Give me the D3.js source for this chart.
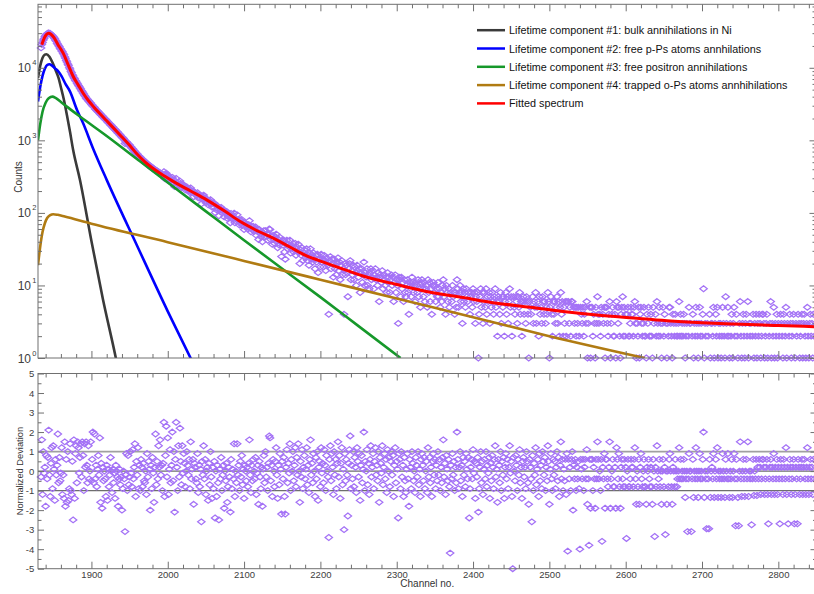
<!DOCTYPE html>
<html>
<head>
<meta charset="utf-8">
<title>Positron lifetime spectrum</title>
<script src="https://cdn.jsdelivr.net/npm/d3@7/dist/d3.min.js"></script>
<style>
  body { margin: 0; background: #fff; }
  svg { display: block; font-family: "Liberation Sans", Arial, sans-serif; }
</style>
</head>
<body>
<svg id="chart" width="814" height="594"></svg>
<script>
// measured spectrum, one value per channel starting at firstChannel
const firstChannel = 1834;
const counts = [
  18800, 20950, 22300, 24150, 25300, 26950, 27700, 28950, 29300, 29950,
  30150, 29700, 29800, 28850, 28400, 27350, 26900, 25850, 25100, 23900,
  23150, 21850, 21100, 20050, 19500, 18450, 18000, 17100, 16600, 15800,
  15100, 14150, 13500, 12600, 12050, 11250, 10800, 10050, 9600, 8950,
  8560, 8000, 7700, 7280, 7050, 6700, 6500, 6180, 5990, 5700,
  5530, 5250, 5100, 4840, 4700, 4480, 4350, 4150, 4030, 3840,
  3720, 3660, 3520, 3460, 3320, 3260, 3130, 3080, 2960, 2900,
  2830, 2710, 2670, 2575, 2540, 2450, 2410, 2330, 2290, 2215,
  2180, 2100, 2070, 2000, 1970, 1900, 1870, 1805, 1780, 1715,
  1690, 1625, 1610, 1550, 1530, 1470, 1450, 1395, 1380, 1320,
  1310, 1255, 1240, 1195, 1180, 1130, 1115, 1075, 1060, 1020,
  905, 960, 955, 915, 905, 870, 860, 822, 812, 775,
  765, 728, 722, 690, 680, 652, 648, 618, 612, 588,
  586, 560, 558, 533, 532, 510, 511, 489, 488, 470,
  470, 450, 452, 432, 436, 418, 420, 402, 405, 389,
  392, 376, 380, 362, 368, 352, 356, 340, 346, 331,
  337, 370, 297, 330, 352, 301, 332, 276, 295, 307,
  274, 285, 309, 264, 284, 230, 271, 299, 258, 235,
  268, 240, 275, 246, 224, 252, 227, 240, 229, 208,
  217, 228, 215, 205, 215, 190, 221, 192, 196, 201,
  167, 193, 188, 178, 172, 190, 161, 177, 160, 170,
  133, 170, 159, 176, 153, 162, 138, 151, 151, 129,
  149, 134, 152, 135, 120, 136, 122, 136, 101, 126,
  110, 125, 113, 91, 117, 110, 119, 100, 107, 110,
  88, 105, 98, 105, 84, 90, 98, 92, 73, 98,
  83, 90, 84, 99, 73, 84, 76, 94, 78, 81,
  68, 80, 72, 81, 67, 73, 59, 73, 69, 64,
  69, 60, 69, 78, 63, 55, 65, 58, 65, 60,
  56, 64, 49, 56, 59, 43, 59, 52, 47, 55,
  40, 53, 57, 47, 57, 48, 51, 42, 51, 60,
  59, 43, 48, 37, 49, 44, 38, 47, 51, 41,
  33, 43, 36, 46, 40, 25, 42, 36, 42, 29,
  23, 37, 42, 32, 37, 34, 42, 28, 36, 33,
  38, 29, 33, 38, 26, 34, 29, 37, 29, 20,
  31, 26, 33, 22, 28, 31, 24, 26, 32, 22,
  26, 19, 28, 32, 23, 26, 21, 28, 23, 17,
  26, 21, 27, 15, 23, 24, 18, 27, 21, 23,
  18, 26, 22, 16, 24, 20, 19, 4, 22, 25,
  17, 23, 20, 13, 23, 17, 21, 14, 20, 24,
  16, 21, 12, 19, 22, 14, 17, 4, 20, 14,
  19, 15, 7, 17, 20, 22, 12, 16, 14, 19,
  12, 18, 15, 10, 19, 16, 13, 17, 8, 15,
  17, 11, 14, 21, 10, 15, 13, 17, 10, 14,
  9, 15, 17, 12, 13, 16, 9, 14, 17, 12,
  13, 10, 15, 6, 14, 13, 11, 16, 9, 12,
  14, 10, 13, 8, 15, 11, 13, 8, 12, 14,
  10, 13, 6, 11, 14, 8, 12, 10, 3, 13,
  12, 7, 13, 9, 11, 6, 12, 8, 7, 10,
  12, 8, 4, 11, 10, 7, 13, 11, 8, 10,
  6, 11, 10, 8, 12, 7, 9, 5, 11, 12,
  9, 7, 11, 6, 9, 10, 5, 12, 8, 11,
  6, 9, 4, 10, 11, 8, 10, 6, 9, 7,
  11, 7, 9, 5, 8, 6, 10, 12, 7, 9,
  4, 10, 8, 6, 9, 5, 0, 8, 6, 10,
  7, 8, 4, 8, 5, 12, 9, 5, 8, 10,
  6, 8, 3, 9, 6, 8, 5, 9, 7, 6,
  8, 0, 4, 7, 8, 5, 9, 6, 8, 3,
  7, 6, 8, 1, 4, 7, 9, 5, 8, 3,
  6, 8, 5, 9, 4, 7, 6, 8, 3, 7,
  5, 8, 6, 4, 7, 9, 5, 6, 2, 7,
  6, 4, 8, 3, 7, 5, 7, 2, 6, 8,
  4, 7, 3, 6, 9, 5, 7, 2, 0, 7,
  5, 4, 7, 6, 3, 7, 5, 8, 4, 6,
  2, 6, 7, 4, 6, 3, 7, 6, 4, 1,
  6, 5, 4, 0, 7, 3, 6, 5, 8, 3,
  5, 6, 2, 7, 4, 5, 3, 7, 6, 4,
  6, 3, 5, 4, 8, 6, 1, 5, 7, 4,
  2, 6, 4, 6, 3, 5, 7, 3, 6, 2,
  5, 8, 4, 6, 2, 5, 3, 6, 2, 6,
  0, 6, 3, 5, 2, 6, 6, 0, 5, 3,
  5, 2, 5, 3, 5, 2, 0, 5, 4, 3,
  5, 2, 4, 5, 3, 6, 1, 3, 0, 5,
  1, 5, 5, 2, 4, 3, 1, 5, 3, 7,
  4, 3, 4, 2, 5, 0, 4, 3, 5, 1,
  5, 5, 3, 2, 4, 6, 1, 3, 4, 5,
  2, 2, 4, 1, 6, 5, 3, 5, 2, 1,
  4, 5, 7, 2, 5, 2, 4, 0, 4, 5,
  2, 2, 3, 5, 4, 4, 2, 5, 6, 3,
  1, 3, 2, 5, 1, 4, 5, 3, 2, 3,
  5, 2, 2, 1, 4, 3, 5, 2, 2, 4,
  2, 1, 5, 3, 0, 4, 2, 6, 3, 2,
  5, 2, 3, 1, 3, 5, 2, 4, 0, 3,
  1, 3, 2, 5, 5, 3, 2, 1, 4, 3,
  2, 4, 3, 2, 2, 3, 6, 2, 4, 2,
  3, 2, 4, 3, 1, 2, 3, 0, 2, 5,
  3, 3, 0, 2, 4, 1, 3, 2, 5, 3,
  2, 1, 3, 5, 2, 3, 2, 4, 9, 1,
  3, 2, 0, 3, 2, 0, 4, 1, 3, 3,
  2, 5, 1, 3, 4, 2, 5, 1, 3, 2,
  3, 1, 2, 5, 3, 2, 1, 7, 3, 2,
  5, 2, 1, 3, 2, 4, 1, 3, 5, 2,
  0, 4, 2, 1, 0, 3, 6, 2, 1, 3,
  4, 2, 1, 3, 4, 2, 6, 1, 3, 2,
  3, 0, 2, 4, 1, 3, 2, 4, 1, 3,
  2, 4, 3, 1, 2, 4, 4, 3, 1, 2,
  3, 4, 1, 0, 2, 3, 6, 1, 3, 2,
  5, 1, 3, 2, 4, 1, 3, 2, 0, 4,
  3, 2, 1, 4, 3, 2, 5, 1, 3, 0,
  2, 4, 3, 1, 2, 3, 4, 0, 1, 3,
  2, 0, 4, 3, 1, 2, 3, 4, 1, 3,
  4, 2, 1, 3, 5, 2, 1, 3, 4, 2,
  3, 1, 4, 2
];

// normalized deviation of the fit, same channels
const deviation = [
  -0.3, 1.6, -1.2, 1.0, -0.1, 0.2, -1.8, 0.8, -0.4, 0.7,
  2.1, -0.2, -1.3, 0.4, 1.2, -0.9, 1.3, 0.1, -1.5, 0.6,
  -0.2, 0.3, 1.9, -0.6, 0.7, -0.5, -0.1, 1.2, -1.2, -0.2,
  -1.4, 1.5, -1.8, 0.6, -1.6, 1.0, -1.5, -0.9, 1.4, -1.0,
  -1.2, 0.5, -2.5, 1.6, -1.4, 0.9, 1.3, -0.6, 1.5, 1.2,
  -0.1, 0.7, 1.4, -0.3, 1.5, 0.8, -1.0, 1.4, 0.2, 1.5,
  0.3, -0.6, 1.3, -0.4, 0.0, 1.5, -0.5, 0.6, 2.0, -0.6,
  1.9, -0.4, 0.3, -0.8, 0.1, 0.8, -0.2, 1.7, -1.6, 0.4,
  -1.9, 0.2, -0.5, 0.0, -0.4, -1.3, 0.3, -1.5, 0.1, -0.8,
  -0.2, 0.7, 0.0, -1.1, 0.1, -0.6, -0.1, -1.4, 0.3, 0.0,
  -0.3, -1.8, -0.4, 0.1, -0.7, -0.3, -2.0, -0.9, 0.0, -0.4,
  -3.1, -0.2, 0.9, -1.0, 0.8, -0.7, -0.3, 1.0, -0.1, -0.8,
  1.1, -0.4, 0.2, 1.4, -1.3, 0.5, -0.2, 1.2, -0.9, 0.3,
  -1.0, 0.6, 0.2, -0.8, 0.4, -0.5, -0.6, 0.0, -1.2, 0.9,
  -0.3, 0.5, 0.1, -2.0, 0.3, -0.9, 0.7, -0.1, -1.6, 0.2,
  1.9, -0.7, 0.5, -0.4, 1.3, 0.2, 1.6, -0.2, 0.3, -1.0,
  0.4, 2.5, -1.3, 0.8, 2.3, -0.3, 1.7, -1.2, 0.1, 1.1,
  -0.6, 0.3, 2.0, -0.5, 1.0, -2.1, 0.6, 2.5, 0.2, -1.0,
  1.3, -0.3, 2.2, 0.5, -0.7, 1.3, -0.1, 0.9, 0.4, -0.8,
  0.0, 1.0, 0.3, -0.2, 0.6, -0.9, 1.5, -0.4, 0.1, 0.6,
  -1.7, 0.4, 0.2, -0.4, -0.6, 0.9, -1.1, 0.3, -0.8, 0.1,
  -2.6, 0.5, -0.2, 1.3, -0.4, 0.6, -1.2, 0.0, 0.2, -1.5,
  0.4, -0.7, 1.0, -0.3, -1.4, 0.2, -0.9, 0.5, -2.4, 0.0,
  -1.3, 0.3, -0.6, -2.5, 0.1, -0.4, 0.7, -1.0, -0.2, 0.3,
  -1.9, 0.0, -0.5, 0.4, -1.6, -0.8, 0.2, -0.3, -2.1, 0.6,
  -0.9, 0.1, -0.4, 1.4, -1.3, 0.0, -0.6, 1.4, -0.2, 0.3,
  -1.0, 0.5, -0.3, 0.8, -0.7, 0.1, -1.4, 0.3, 0.0, -0.5,
  0.2, -0.8, 0.4, 1.6, -0.2, -1.1, 0.3, -0.5, 0.6, 0.0,
  -0.4, 0.7, -1.2, -0.1, 0.3, -1.7, 0.5, -0.3, -0.9, 0.2,
  -1.8, 0.1, 0.8, -0.6, 1.0, -0.3, 0.2, -1.0, 0.4, 1.8,
  1.7, -0.5, 0.3, -1.3, 0.6, 0.0, -0.8, 0.5, 1.2, -0.2,
  -1.4, 0.3, -0.7, 0.9, 0.1, -2.2, 0.5, -0.4, 0.7, -1.3,
  -2.2, 0.2, 1.1, -0.6, 0.4, -0.1, 1.4, -1.0, 0.6, 0.0,
  1.0, -0.5, 0.3, 1.2, -0.8, 0.7, -0.2, 1.4, 0.0, -1.6,
  0.5, -0.3, 1.1, -0.9, 0.2, 0.8, -0.4, 0.1, 1.2, -0.7,
  0.3, -1.1, 0.6, 1.6, -0.2, 0.4, -0.6, 0.9, 0.0, -1.3,
  0.7, -0.4, 1.0, -1.5, 0.2, 0.5, -0.8, 1.2, -0.1, 0.4,
  -0.6, 1.1, 0.3, -1.0, 0.8, 0.0, -0.3, -3.4, 0.6, 1.3,
  -0.5, 0.9, 0.2, -1.2, 1.0, -0.2, 0.6, -0.9, 0.4, 1.5,
  -0.3, 0.8, -1.4, 0.4, 1.2, -0.7, 0.1, -3.0, 0.9, -0.5,
  0.6, -0.2, -2.3, 0.4, 1.1, 1.8, -0.9, 0.3, -0.4, 1.0,
  -0.8, 0.7, 0.2, -1.1, 1.2, 0.5, -0.3, 0.9, -1.5, 0.3,
  0.8, -0.6, 0.1, 2.0, -1.0, 0.5, 0.0, 1.1, -0.7, 0.4,
  -1.2, 0.6, 1.3, -0.3, 0.2, 0.9, -0.9, 0.5, 1.2, -0.2,
  0.3, -0.5, 1.0, -1.6, 0.7, 0.4, -0.1, 1.3, -0.7, 0.2,
  0.9, -0.4, 0.6, -1.1, 1.1, 0.0, 0.7, -0.8, 0.5, 1.0,
  -0.2, 0.8, -1.3, 0.3, 1.2, -0.6, 0.5, 0.1, -2.4, 0.9,
  0.6, -0.9, 1.0, -0.3, 0.3, -1.3, 0.7, -0.5, -1.1, 0.1,
  0.9, -0.4, -1.8, 0.6, 0.2, -0.9, 1.0, 0.4, -0.5, 0.0,
  -1.1, 0.7, 0.3, -0.3, 1.0, -0.7, 0.1, -1.3, 0.6, 0.9,
  0.3, -0.5, 0.7, -0.9, 0.0, 0.5, -1.1, 1.2, -0.3, 0.7,
  -0.6, 0.2, -1.3, 0.5, 0.9, -0.2, 0.6, -0.9, 0.3, -0.5,
  1.0, -0.2, 0.6, -1.0, 0.2, -0.6, 0.7, 1.6, -0.3, 0.4,
  -1.2, 0.8, 0.1, -0.5, 0.6, -0.8, -4.2, 0.3, -0.4, 0.9,
  -0.2, 0.5, -1.0, 0.2, -0.6, 2.0, 0.6, -0.9, 0.2, 1.0,
  -0.5, 0.3, -1.3, 0.7, -0.2, 0.5, -0.8, 0.9, 0.1, -0.4,
  0.7, -2.4, -0.9, 0.2, 0.6, -0.4, 1.1, -0.1, 0.5, -1.4,
  0.4, -0.3, 0.7, -2.1, -0.9, 0.2, 1.0, -0.6, 0.5, -1.2,
  0.1, 0.6, -0.4, 1.0, -0.8, 0.3, -0.1, 0.7, -1.4, 0.4,
  -0.5, 0.8, 0.2, -0.9, 0.6, 1.3, -0.3, 0.1, -1.6, 0.6,
  0.3, -0.6, 1.0, -1.0, 0.5, -0.2, 0.7, -1.4, 0.2, 0.9,
  -0.4, 0.6, -0.9, 0.2, 1.3, -0.1, 0.5, -1.3, -5.0, 0.7,
  0.0, -0.5, 0.8, 0.3, -1.0, 0.6, -0.2, 1.1, -0.6, 0.2,
  -1.4, 0.5, 0.7, -0.3, 0.2, -0.9, 1.0, 0.5, -0.6, -1.7,
  0.6, 0.2, -0.4, -2.6, 0.8, -1.0, 0.4, -0.2, 1.2, -0.7,
  0.1, 0.6, -1.3, 0.9, -0.5, 0.3, -0.9, 1.0, 0.5, -0.2,
  0.7, -1.0, 0.2, -0.5, 1.3, 0.5, -1.7, 0.1, 0.9, -0.4,
  -1.0, 0.6, -0.2, 0.5, -0.9, 0.2, 1.0, -0.5, 0.7, -1.3,
  0.3, 1.5, -0.4, 0.6, -1.0, 0.1, -0.5, 0.6, -1.2, 0.9,
  -4.1, 0.6, -0.4, 0.2, -1.0, 0.6, 1.0, -2.0, 0.3, -0.4,
  0.6, -1.0, 0.2, -0.4, 0.5, -0.9, -4.0, 0.6, 0.1, -0.4,
  0.6, -1.0, 0.2, 0.6, -0.4, 1.1, -1.7, -0.4, -3.8, 0.6,
  -1.9, 0.6, 0.6, -1.0, 0.2, -0.4, -1.9, 0.6, -0.4, 1.5,
  0.6, -0.4, 0.0, -1.0, 0.6, -3.6, 0.2, -0.4, 0.9, -1.9,
  0.6, 0.6, -0.4, -0.8, 0.2, 1.5, -1.9, -0.4, 0.0, 0.6,
  -0.8, -0.8, 0.2, -1.9, 1.2, 0.6, -0.4, 0.9, -0.8, -1.9,
  0.2, 0.6, -0.4, -0.8, 0.6, -0.8, 0.2, -3.45, 0.0, 0.6,
  -0.8, -0.8, -0.4, 0.6, 0.2, 0.2, -0.8, 0.6, 1.2, -0.4,
  -1.7, 0.0, -0.8, 0.6, -1.7, 0.2, 0.9, -0.4, -0.8, 0.0,
  0.6, -0.8, -0.8, -1.7, 0.2, 0.0, 0.6, -0.4, -0.8, 0.2,
  -0.8, -1.7, 0.6, 0.0, -3.35, 0.2, -0.8, 1.3, 0.0, -0.4,
  0.6, -0.8, 0.0, -1.7, 0.0, 0.6, -0.8, 0.2, -3.25, 0.0,
  -1.7, 0.0, -0.8, 0.6, 0.9, 0.0, -0.8, -1.7, 0.2, 0.0,
  -0.8, 0.6, 0.0, -0.8, -0.4, 0.0, 1.2, -0.4, 0.6, -0.4,
  0.0, -0.4, 0.6, 0.0, -1.35, -0.4, 0.0, -3.1, -0.4, 0.9,
  0.0, 0.0, -3.1, -0.4, 0.6, -1.35, 0.0, -0.4, 1.2, 0.0,
  -0.4, -1.35, 0.0, 0.9, -0.4, 0.0, -0.4, 0.6, 2.0, -1.35,
  0.0, -0.4, -2.95, 0.0, -0.4, -2.95, 0.6, -1.35, 0.0, 0.2,
  -0.4, 0.9, -1.35, 0.0, 0.6, -0.4, 1.2, -1.35, 0.0, -0.4,
  0.0, -1.35, -0.4, 0.9, 0.0, -0.4, -1.35, 0.6, 0.0, -0.4,
  0.9, -0.4, -1.35, 0.0, -0.4, 0.6, -1.35, 0.0, 0.9, -0.4,
  -2.8, 0.6, -0.4, -1.35, -2.8, 0.0, 1.5, -0.4, -1.3, 0.0,
  0.6, -0.4, -1.3, 0.0, 0.6, -0.4, 1.5, -1.3, 0.0, -0.4,
  0.0, -2.75, -0.4, 0.6, -1.25, 0.0, -0.4, 0.6, -1.25, 0.2,
  -0.4, 0.6, 0.2, -1.2, -0.4, 0.6, 0.6, 0.2, -1.2, -0.4,
  0.2, 0.6, -1.2, -2.7, -0.4, 0.2, 0.6, -1.2, 0.2, -0.4,
  0.9, -1.2, 0.2, -0.4, 0.6, -1.2, 0.2, -0.4, -2.7, 0.6,
  0.2, -0.4, -1.2, 0.6, 0.2, -0.4, 1.2, -1.2, 0.2, -2.7,
  -0.4, 0.6, 0.2, -1.2, -0.4, 0.2, 0.6, -2.7, -1.2, 0.2,
  -0.4, -2.7, 0.6, 0.2, -1.2, -0.4, 0.2, 0.6, -1.2, 0.2,
  0.6, -0.4, -1.2, 0.2, 1.2, -0.4, -1.2, 0.2, 0.6, -0.4,
  0.2, -1.2, 0.6, -0.4
];

const comp1Channels = [1830, 1833, 1836, 1839, 1841, 1845, 1849, 1853, 1857, 1860, 1864, 1868, 1872, 1876, 1885, 1900, 1915, 1932, 1936];
const comp1Values = [7200, 10800, 13800, 15200, 15400, 14200, 11800, 9300, 7200, 5400, 3600, 2200, 1300, 740, 285, 41, 6.5, 1.0, 0.62];

const comp2Channels = [1830, 1833, 1836, 1839, 1842, 1845, 1848, 1852, 1857, 1861, 1866, 1872, 1881, 1889, 1902, 1920, 1960, 2000, 2032];
const comp2Values = [3430, 5500, 7800, 9700, 10900, 11200, 10800, 9900, 8800, 7600, 6000, 4700, 2640, 1730, 780, 285, 35, 4.4, 0.9];

const comp3Channels = [1830, 1833, 1836, 1840, 1844, 1849, 1853, 1860, 1870, 1885, 1920, 1964, 2000, 2050, 2100, 2150, 2200, 2250, 2305];
const comp3Values = [1000, 1700, 2500, 3300, 3800, 4000, 3850, 3380, 2800, 2130, 1150, 510, 263, 105, 42, 17, 6.9, 2.75, 1.0];

const comp4Channels = [1830, 1833, 1836, 1839, 1842, 1846, 1850, 1856, 1865, 1900, 2000, 2100, 2200, 2300, 2400, 2500, 2625];
const comp4Values = [19, 35, 55, 72, 85, 93, 96, 94, 89, 71, 39.5, 21.8, 12.0, 6.6, 3.65, 2.0, 1.0];

const fitChannels = [1835, 1838, 1841, 1844, 1847, 1851, 1856, 1863, 1870, 1876, 1883, 1889, 1896, 1903, 1910, 1920, 1930, 1940, 1950, 1960, 1970, 1980, 1990, 2007, 2030, 2051, 2075, 2095, 2120, 2138, 2160, 2182, 2205, 2226, 2256, 2300, 2344, 2387, 2431, 2475, 2518, 2562, 2610, 2654, 2700, 2741, 2800, 2850];
const fitValues = [20800, 25500, 28800, 30000, 29000, 26000, 21000, 15900, 10700, 7650, 5720, 4500, 3540, 2890, 2400, 1860, 1440, 1110, 854, 642, 505, 416, 351, 272, 200, 151, 105, 76, 55, 45, 33.9, 25.5, 20.8, 17.3, 13.5, 10.3, 8.05, 6.8, 5.7, 5.0, 4.36, 3.9, 3.55, 3.27, 3.07, 2.94, 2.8, 2.7];

const legendLabels = [
  'Lifetime component #1: bulk annihilations in Ni',
  'Lifetime component #2: free p-Ps atoms annhilations',
  'Lifetime component #3: free positron annihilations',
  'Lifetime component #4: trapped o-Ps atoms annhihilations',
  'Fitted spectrum'
];
const channelTicks = [1900, 2000, 2100, 2200, 2300, 2400, 2500, 2600, 2700, 2800];
const decadeTicks = [0, 1, 2, 3, 4];
const deviationTicks = [-5, -4, -3, -2, -1, 0, 1, 2, 3, 4, 5];

const curves = [
  { ch: comp1Channels, val: comp1Values, color: '#3a3a3a' },
  { ch: comp2Channels, val: comp2Values, color: '#0000ff' },
  { ch: comp3Channels, val: comp3Values, color: '#16982a' },
  { ch: comp4Channels, val: comp4Values, color: '#b07b12' },
  { ch: fitChannels, val: fitValues, color: '#ff0000' }
];

const left = 38, right = 816.5;
const top1 = 4.3, bottom1 = 358;
const top2 = 373.5, bottom2 = 568.7;
const axisColor = '#707070';
const pointColor = '#a472f6';

const svg = d3.select('#chart');

const x = d3.scaleLinear().domain([1830, 2850]).range([left, right]);
const y = d3.scaleLog().domain([1, 75000]).range([bottom1, top1]);
const yDev = d3.scaleLinear().domain([-5, 5]).range([bottom2, top2]);

svg.append('defs').append('clipPath').attr('id', 'clip-top')
  .append('rect')
  .attr('x', left).attr('y', top1)
  .attr('width', right - left).attr('height', bottom1 - top1);

const diamond = 'M0,-2.9L3.7,0L0,2.9L-3.7,0Z';

// measured points
const spectrum = counts
  .map((v, i) => ({ ch: firstChannel + i, v }))
  .filter(d => d.v > 0);

svg.append('g').selectAll('path')
  .data(spectrum)
  .enter()
  .append('path')
  .attr('d', diamond)
  .attr('transform', d => `translate(${x(d.ch)},${y(d.v)})`)
  .attr('fill', 'none')
  .attr('stroke', pointColor)
  .attr('stroke-width', 1.25);

// component curves and fit
const line = d3.line()
  .x(d => x(d[0]))
  .y(d => y(d[1]))
  .curve(d3.curveMonotoneX);

svg.append('g').attr('clip-path', 'url(#clip-top)')
  .selectAll('path')
  .data(curves)
  .enter()
  .append('path')
  .attr('d', c => line(c.ch.map((ch, i) => [ch, c.val[i]])))
  .attr('fill', 'none')
  .attr('stroke', c => c.color)
  .attr('stroke-width', (c, i) => i === 4 ? 3 : 2.6);

// residual panel reference lines
[[1, '#a0a0a0', 1.6], [0, '#6e6e6e', 1.2], [-1, '#6e6e6e', 1.2]].forEach(([v, col, w]) => {
  svg.append('line')
    .attr('x1', left).attr('x2', right)
    .attr('y1', yDev(v)).attr('y2', yDev(v))
    .attr('stroke', col).attr('stroke-width', w);
});

svg.append('g').selectAll('path')
  .data(deviation.map((v, i) => ({ ch: firstChannel + i, v })))
  .enter()
  .append('path')
  .attr('d', diamond)
  .attr('transform', d => `translate(${x(d.ch)},${yDev(d.v)})`)
  .attr('fill', 'none')
  .attr('stroke', pointColor)
  .attr('stroke-width', 1.25);

// frames
[[top1, bottom1], [top2, bottom2]].forEach(([t, b]) => {
  svg.append('rect')
    .attr('x', left).attr('y', t)
    .attr('width', right - left).attr('height', b - t)
    .attr('fill', 'none')
    .attr('stroke', axisColor)
    .attr('stroke-width', 1);
});

function styleAxis(g) {
  g.select('.domain').remove();
  g.selectAll('.tick line').attr('stroke', axisColor);
  g.selectAll('.tick text').attr('fill', '#404040');
  g.attr('font-family', '"Liberation Sans", Arial, sans-serif').attr('font-size', 9.5);
}

const minorChannels = d3.range(1840, 2850, 20).filter(v => v % 100 !== 0);

function channelAxis(yPos, inwardDown, withLabels) {
  const make = () => inwardDown ? d3.axisTop(x) : d3.axisBottom(x);
  svg.append('g')
    .attr('transform', `translate(0,${yPos})`)
    .call(make().tickValues(channelTicks).tickSize(-7).tickSizeOuter(0).tickPadding(2.5)
      .tickFormat(withLabels ? (d => String(d)) : ''))
    .call(styleAxis);
  svg.append('g')
    .attr('transform', `translate(0,${yPos})`)
    .call(make().tickValues(minorChannels).tickSize(-4).tickSizeOuter(0).tickFormat(''))
    .call(styleAxis);
}

channelAxis(top1, true, false);
channelAxis(bottom1, false, false);
channelAxis(top2, true, false);
channelAxis(bottom2, false, true);

// log axis ticks, left and right
const majorCounts = decadeTicks.map(p => Math.pow(10, p));
const minorCounts = [];
decadeTicks.forEach(p => {
  for (let m = 2; m <= 9; m++) {
    const v = m * Math.pow(10, p);
    if (v <= 75000) minorCounts.push(v);
  }
});

[[left, d3.axisLeft], [right, d3.axisRight]].forEach(([xPos, axisFn]) => {
  svg.append('g').attr('transform', `translate(${xPos},0)`)
    .call(axisFn(y).tickValues(majorCounts).tickSize(-7).tickSizeOuter(0).tickFormat(''))
    .call(styleAxis);
  svg.append('g').attr('transform', `translate(${xPos},0)`)
    .call(axisFn(y).tickValues(minorCounts).tickSize(-4).tickSizeOuter(0).tickFormat(''))
    .call(styleAxis);
});

// decade labels 10^n
const decadeLabels = svg.append('g').attr('fill', '#404040');
decadeTicks.forEach(p => {
  const ty = y(Math.pow(10, p));
  decadeLabels.append('text')
    .attr('x', 31).attr('y', ty + 4.5)
    .attr('text-anchor', 'end')
    .attr('font-size', 12)
    .text('10');
  decadeLabels.append('text')
    .attr('x', 32.3).attr('y', ty - 2.5)
    .attr('font-size', 7.5)
    .text(p);
});

// deviation axis
const minorDev = d3.range(-4.5, 5, 1);
[[left, d3.axisLeft, true], [right, d3.axisRight, false]].forEach(([xPos, axisFn, withLabels]) => {
  svg.append('g').attr('transform', `translate(${xPos},0)`)
    .call(axisFn(yDev).tickValues(deviationTicks).tickSize(-6).tickSizeOuter(0).tickPadding(3.7)
      .tickFormat(withLabels ? (d => String(d)) : ''))
    .call(styleAxis);
  svg.append('g').attr('transform', `translate(${xPos},0)`)
    .call(axisFn(yDev).tickValues(minorDev).tickSize(-3.5).tickSizeOuter(0).tickFormat(''))
    .call(styleAxis);
});

// axis titles
svg.append('text')
  .attr('transform', 'translate(21.5,177) rotate(-90)')
  .attr('text-anchor', 'middle')
  .attr('font-size', 10)
  .attr('fill', '#333')
  .text('Counts');

svg.append('text')
  .attr('transform', `translate(22.5,${yDev(0)}) rotate(-90)`)
  .attr('text-anchor', 'middle')
  .attr('font-size', 9.3)
  .attr('fill', '#333')
  .text('Normalized Deviation');

svg.append('text')
  .attr('x', (left + right) / 2).attr('y', 587)
  .attr('text-anchor', 'middle')
  .attr('font-size', 10)
  .attr('fill', '#333')
  .text('Channel no.');

// legend
const legend = svg.append('g').attr('transform', 'translate(477,30.2)');
legendLabels.forEach((label, i) => {
  const row = legend.append('g').attr('transform', `translate(0,${i * 18.3})`);
  row.append('line')
    .attr('x1', 0).attr('x2', 28)
    .attr('stroke', curves[i].color)
    .attr('stroke-width', 2.5);
  row.append('text')
    .attr('x', 32).attr('y', 4)
    .attr('font-size', 10.8)
    .attr('fill', '#111')
    .text(label);
});
</script>
</body>
</html>
